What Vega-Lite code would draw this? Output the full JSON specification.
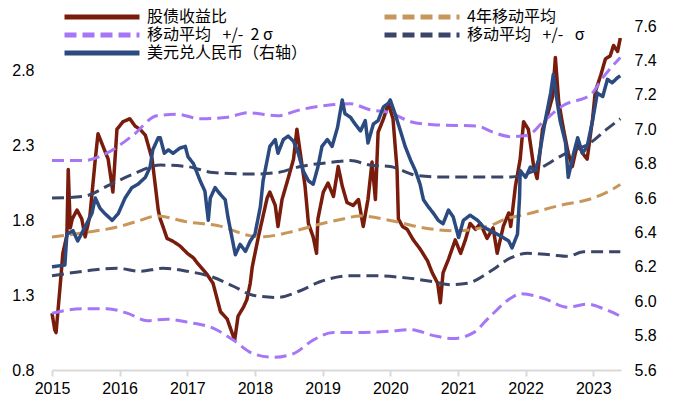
{
  "$schema": "https://vega.github.io/schema/vega-lite/v6.json",
  "width": 569,
  "height": 344,
  "autosize": {"type": "none"},
  "padding": {"left": 52, "top": 26, "right": 79, "bottom": 37},
  "config": {
    "view": {"stroke": null},
    "font": "Liberation Sans",
    "axis": {"labelFont": "Liberation Sans", "labelFontSize": 16, "labelColor": "#000000", "grid": false, "title": null},
    "legend": {
      "orient": "none", "legendX": 10, "legendY": -17, "columns": 2, "columnPadding": 74, "rowPadding": 2,
      "clipHeight": 16,
      "symbolType": "stroke", "symbolSize": 5625, "symbolStrokeWidth": 5,
      "labelFont": "Noto Sans CJK SC", "labelFontSize": 16, "labelColor": "#000000", "labelOffset": 5, "labelLimit": 400
    }
  },
  "datasets": {
    "red": [
      {"t": 2015.00, "v": 1.18}, {"t": 2015.04, "v": 1.07}, {"t": 2015.06, "v": 1.05}, {"t": 2015.12, "v": 1.36},
      {"t": 2015.16, "v": 1.58}, {"t": 2015.22, "v": 1.70}, {"t": 2015.24, "v": 2.14}, {"t": 2015.27, "v": 1.75},
      {"t": 2015.30, "v": 1.81}, {"t": 2015.37, "v": 1.87}, {"t": 2015.44, "v": 1.81}, {"t": 2015.49, "v": 1.69},
      {"t": 2015.56, "v": 1.83}, {"t": 2015.64, "v": 2.21}, {"t": 2015.68, "v": 2.38}, {"t": 2015.75, "v": 2.30},
      {"t": 2015.83, "v": 2.21}, {"t": 2015.90, "v": 1.99}, {"t": 2015.96, "v": 2.41}, {"t": 2016.05, "v": 2.46},
      {"t": 2016.15, "v": 2.48}, {"t": 2016.23, "v": 2.43}, {"t": 2016.30, "v": 2.41}, {"t": 2016.38, "v": 2.37},
      {"t": 2016.48, "v": 2.21}, {"t": 2016.57, "v": 1.87}, {"t": 2016.60, "v": 1.81}, {"t": 2016.64, "v": 1.76},
      {"t": 2016.70, "v": 1.68}, {"t": 2016.79, "v": 1.66}, {"t": 2016.89, "v": 1.63}, {"t": 2017.00, "v": 1.58},
      {"t": 2017.09, "v": 1.55}, {"t": 2017.14, "v": 1.52}, {"t": 2017.29, "v": 1.44}, {"t": 2017.38, "v": 1.38},
      {"t": 2017.49, "v": 1.19}, {"t": 2017.59, "v": 1.14}, {"t": 2017.66, "v": 1.05}, {"t": 2017.70, "v": 1.00},
      {"t": 2017.75, "v": 1.16}, {"t": 2017.83, "v": 1.22}, {"t": 2017.88, "v": 1.27}, {"t": 2017.93, "v": 1.38},
      {"t": 2017.96, "v": 1.49}, {"t": 2018.05, "v": 1.69}, {"t": 2018.12, "v": 1.83}, {"t": 2018.18, "v": 1.95},
      {"t": 2018.22, "v": 1.99}, {"t": 2018.30, "v": 1.90}, {"t": 2018.34, "v": 1.76}, {"t": 2018.40, "v": 1.94},
      {"t": 2018.49, "v": 2.08}, {"t": 2018.57, "v": 2.21}, {"t": 2018.62, "v": 2.41}, {"t": 2018.67, "v": 2.25},
      {"t": 2018.74, "v": 2.03}, {"t": 2018.79, "v": 1.78}, {"t": 2018.86, "v": 1.69}, {"t": 2018.91, "v": 1.58},
      {"t": 2018.93, "v": 1.81}, {"t": 2019.01, "v": 1.99}, {"t": 2019.08, "v": 2.05}, {"t": 2019.16, "v": 1.96},
      {"t": 2019.23, "v": 2.16}, {"t": 2019.29, "v": 2.03}, {"t": 2019.36, "v": 1.92}, {"t": 2019.45, "v": 1.90},
      {"t": 2019.53, "v": 1.94}, {"t": 2019.60, "v": 1.76}, {"t": 2019.67, "v": 1.94}, {"t": 2019.73, "v": 2.19},
      {"t": 2019.78, "v": 1.94}, {"t": 2019.82, "v": 2.39}, {"t": 2019.90, "v": 2.48}, {"t": 2019.97, "v": 2.58},
      {"t": 2020.00, "v": 2.54}, {"t": 2020.04, "v": 2.48}, {"t": 2020.10, "v": 2.14}, {"t": 2020.12, "v": 1.81},
      {"t": 2020.18, "v": 1.76}, {"t": 2020.25, "v": 1.74}, {"t": 2020.34, "v": 1.67}, {"t": 2020.44, "v": 1.61},
      {"t": 2020.55, "v": 1.53}, {"t": 2020.62, "v": 1.45}, {"t": 2020.70, "v": 1.38}, {"t": 2020.74, "v": 1.25},
      {"t": 2020.78, "v": 1.45}, {"t": 2020.86, "v": 1.54}, {"t": 2020.96, "v": 1.67}, {"t": 2021.04, "v": 1.58},
      {"t": 2021.11, "v": 1.67}, {"t": 2021.18, "v": 1.78}, {"t": 2021.26, "v": 1.74}, {"t": 2021.33, "v": 1.78},
      {"t": 2021.43, "v": 1.68}, {"t": 2021.52, "v": 1.75}, {"t": 2021.58, "v": 1.58}, {"t": 2021.67, "v": 1.76},
      {"t": 2021.75, "v": 1.85}, {"t": 2021.78, "v": 1.76}, {"t": 2021.85, "v": 2.03}, {"t": 2021.92, "v": 2.21},
      {"t": 2021.97, "v": 2.46}, {"t": 2022.04, "v": 2.41}, {"t": 2022.12, "v": 2.16}, {"t": 2022.17, "v": 2.08},
      {"t": 2022.25, "v": 2.41}, {"t": 2022.32, "v": 2.50}, {"t": 2022.40, "v": 2.63}, {"t": 2022.44, "v": 2.89},
      {"t": 2022.49, "v": 2.59}, {"t": 2022.56, "v": 2.41}, {"t": 2022.63, "v": 2.25}, {"t": 2022.69, "v": 2.16},
      {"t": 2022.77, "v": 2.32}, {"t": 2022.84, "v": 2.25}, {"t": 2022.91, "v": 2.21}, {"t": 2022.99, "v": 2.48},
      {"t": 2023.03, "v": 2.66}, {"t": 2023.11, "v": 2.77}, {"t": 2023.18, "v": 2.88}, {"t": 2023.25, "v": 2.90},
      {"t": 2023.30, "v": 2.97}, {"t": 2023.36, "v": 2.93}, {"t": 2023.40, "v": 3.02}
    ],
    "ma": [
      {"t": 2015.00, "v": 1.69}, {"t": 2015.50, "v": 1.72}, {"t": 2016.00, "v": 1.76}, {"t": 2016.30, "v": 1.80},
      {"t": 2016.55, "v": 1.83}, {"t": 2017.00, "v": 1.79}, {"t": 2017.50, "v": 1.76}, {"t": 2017.90, "v": 1.70},
      {"t": 2018.10, "v": 1.69}, {"t": 2018.50, "v": 1.72}, {"t": 2019.00, "v": 1.78}, {"t": 2019.30, "v": 1.81},
      {"t": 2019.55, "v": 1.83}, {"t": 2020.00, "v": 1.80}, {"t": 2020.50, "v": 1.75}, {"t": 2020.95, "v": 1.73},
      {"t": 2021.50, "v": 1.77}, {"t": 2021.70, "v": 1.81}, {"t": 2022.00, "v": 1.84}, {"t": 2022.50, "v": 1.90},
      {"t": 2023.00, "v": 1.95}, {"t": 2023.25, "v": 2.00}, {"t": 2023.40, "v": 2.04}
    ],
    "u2": [
      {"t": 2015.00, "v": 2.20}, {"t": 2015.46, "v": 2.20}, {"t": 2015.81, "v": 2.25}, {"t": 2016.20, "v": 2.37},
      {"t": 2016.55, "v": 2.50}, {"t": 2016.85, "v": 2.51}, {"t": 2017.19, "v": 2.48}, {"t": 2017.59, "v": 2.49},
      {"t": 2017.90, "v": 2.52}, {"t": 2018.33, "v": 2.50}, {"t": 2018.67, "v": 2.54}, {"t": 2019.07, "v": 2.57},
      {"t": 2019.41, "v": 2.58}, {"t": 2019.70, "v": 2.54}, {"t": 2020.00, "v": 2.52}, {"t": 2020.30, "v": 2.46},
      {"t": 2020.64, "v": 2.44}, {"t": 2021.29, "v": 2.43}, {"t": 2021.52, "v": 2.39}, {"t": 2021.78, "v": 2.36},
      {"t": 2022.03, "v": 2.37}, {"t": 2022.26, "v": 2.46}, {"t": 2022.56, "v": 2.57}, {"t": 2022.96, "v": 2.64},
      {"t": 2023.15, "v": 2.76}, {"t": 2023.40, "v": 2.89}
    ],
    "l2": [
      {"t": 2015.00, "v": 1.18}, {"t": 2015.22, "v": 1.20}, {"t": 2015.52, "v": 1.21}, {"t": 2015.81, "v": 1.21},
      {"t": 2016.11, "v": 1.18}, {"t": 2016.41, "v": 1.13}, {"t": 2016.70, "v": 1.14}, {"t": 2017.00, "v": 1.12},
      {"t": 2017.38, "v": 1.08}, {"t": 2017.68, "v": 1.00}, {"t": 2017.97, "v": 0.91}, {"t": 2018.27, "v": 0.885},
      {"t": 2018.57, "v": 0.91}, {"t": 2018.86, "v": 1.00}, {"t": 2019.16, "v": 1.05}, {"t": 2019.41, "v": 1.05},
      {"t": 2020.00, "v": 1.06}, {"t": 2020.30, "v": 1.07}, {"t": 2020.64, "v": 1.03}, {"t": 2020.93, "v": 1.01},
      {"t": 2021.23, "v": 1.05}, {"t": 2021.48, "v": 1.16}, {"t": 2021.78, "v": 1.28}, {"t": 2021.92, "v": 1.31},
      {"t": 2022.26, "v": 1.28}, {"t": 2022.62, "v": 1.22}, {"t": 2022.91, "v": 1.24}, {"t": 2023.15, "v": 1.21},
      {"t": 2023.40, "v": 1.16}
    ],
    "u1": [
      {"t": 2015.00, "v": 1.95}, {"t": 2015.46, "v": 1.96}, {"t": 2015.86, "v": 2.04}, {"t": 2016.20, "v": 2.11},
      {"t": 2016.60, "v": 2.17}, {"t": 2017.00, "v": 2.16}, {"t": 2017.38, "v": 2.12}, {"t": 2017.97, "v": 2.11},
      {"t": 2018.33, "v": 2.12}, {"t": 2018.67, "v": 2.16}, {"t": 2019.16, "v": 2.19}, {"t": 2019.41, "v": 2.20},
      {"t": 2019.70, "v": 2.17}, {"t": 2020.00, "v": 2.16}, {"t": 2020.40, "v": 2.10}, {"t": 2020.74, "v": 2.09},
      {"t": 2021.48, "v": 2.09}, {"t": 2021.78, "v": 2.09}, {"t": 2022.00, "v": 2.11}, {"t": 2022.17, "v": 2.14},
      {"t": 2022.56, "v": 2.24}, {"t": 2022.96, "v": 2.32}, {"t": 2023.20, "v": 2.41}, {"t": 2023.40, "v": 2.48}
    ],
    "l1": [
      {"t": 2015.00, "v": 1.43}, {"t": 2015.46, "v": 1.46}, {"t": 2015.96, "v": 1.48}, {"t": 2016.30, "v": 1.46},
      {"t": 2016.64, "v": 1.48}, {"t": 2017.00, "v": 1.46}, {"t": 2017.38, "v": 1.42}, {"t": 2017.68, "v": 1.36},
      {"t": 2017.97, "v": 1.30}, {"t": 2018.33, "v": 1.285}, {"t": 2018.67, "v": 1.33}, {"t": 2018.96, "v": 1.39},
      {"t": 2019.41, "v": 1.43}, {"t": 2019.80, "v": 1.43}, {"t": 2020.15, "v": 1.42}, {"t": 2020.64, "v": 1.39},
      {"t": 2020.89, "v": 1.37}, {"t": 2021.14, "v": 1.38}, {"t": 2021.48, "v": 1.46}, {"t": 2021.78, "v": 1.55},
      {"t": 2022.03, "v": 1.58}, {"t": 2022.37, "v": 1.57}, {"t": 2022.62, "v": 1.56}, {"t": 2022.86, "v": 1.59},
      {"t": 2023.40, "v": 1.59}
    ],
    "fx": [
      {"t": 2015.00, "v": 6.20}, {"t": 2015.19, "v": 6.21}, {"t": 2015.22, "v": 6.39}, {"t": 2015.31, "v": 6.41},
      {"t": 2015.38, "v": 6.35}, {"t": 2015.46, "v": 6.41}, {"t": 2015.59, "v": 6.51}, {"t": 2015.64, "v": 6.60},
      {"t": 2015.71, "v": 6.54}, {"t": 2015.78, "v": 6.51}, {"t": 2015.89, "v": 6.47}, {"t": 2015.98, "v": 6.51},
      {"t": 2016.08, "v": 6.60}, {"t": 2016.18, "v": 6.66}, {"t": 2016.27, "v": 6.68}, {"t": 2016.38, "v": 6.72},
      {"t": 2016.45, "v": 6.78}, {"t": 2016.49, "v": 6.88}, {"t": 2016.57, "v": 6.95}, {"t": 2016.60, "v": 6.95},
      {"t": 2016.66, "v": 6.86}, {"t": 2016.72, "v": 6.88}, {"t": 2016.79, "v": 6.86}, {"t": 2016.89, "v": 6.89},
      {"t": 2016.97, "v": 6.90}, {"t": 2017.01, "v": 6.84}, {"t": 2017.09, "v": 6.80}, {"t": 2017.19, "v": 6.70},
      {"t": 2017.26, "v": 6.64}, {"t": 2017.31, "v": 6.47}, {"t": 2017.34, "v": 6.60}, {"t": 2017.41, "v": 6.66},
      {"t": 2017.49, "v": 6.62}, {"t": 2017.56, "v": 6.59}, {"t": 2017.60, "v": 6.49}, {"t": 2017.66, "v": 6.37},
      {"t": 2017.71, "v": 6.27}, {"t": 2017.78, "v": 6.33}, {"t": 2017.86, "v": 6.29}, {"t": 2017.93, "v": 6.35},
      {"t": 2018.00, "v": 6.39}, {"t": 2018.08, "v": 6.55}, {"t": 2018.12, "v": 6.70}, {"t": 2018.18, "v": 6.82},
      {"t": 2018.22, "v": 6.90}, {"t": 2018.30, "v": 6.94}, {"t": 2018.34, "v": 6.86}, {"t": 2018.42, "v": 6.94},
      {"t": 2018.49, "v": 6.96}, {"t": 2018.57, "v": 6.93}, {"t": 2018.64, "v": 6.86}, {"t": 2018.71, "v": 6.76},
      {"t": 2018.79, "v": 6.70}, {"t": 2018.86, "v": 6.68}, {"t": 2018.93, "v": 6.78}, {"t": 2018.99, "v": 6.90},
      {"t": 2019.07, "v": 6.94}, {"t": 2019.14, "v": 6.90}, {"t": 2019.22, "v": 7.01}, {"t": 2019.29, "v": 7.17},
      {"t": 2019.33, "v": 7.09}, {"t": 2019.41, "v": 7.07}, {"t": 2019.48, "v": 7.03}, {"t": 2019.56, "v": 6.99},
      {"t": 2019.63, "v": 7.05}, {"t": 2019.67, "v": 6.92}, {"t": 2019.75, "v": 7.03}, {"t": 2019.82, "v": 7.05},
      {"t": 2019.90, "v": 7.13}, {"t": 2019.97, "v": 7.15}, {"t": 2020.00, "v": 7.17}, {"t": 2020.07, "v": 7.09},
      {"t": 2020.15, "v": 6.99}, {"t": 2020.22, "v": 6.90}, {"t": 2020.30, "v": 6.82}, {"t": 2020.37, "v": 6.76},
      {"t": 2020.44, "v": 6.68}, {"t": 2020.49, "v": 6.59}, {"t": 2020.56, "v": 6.55}, {"t": 2020.64, "v": 6.51},
      {"t": 2020.71, "v": 6.47}, {"t": 2020.78, "v": 6.45}, {"t": 2020.86, "v": 6.53}, {"t": 2020.93, "v": 6.49},
      {"t": 2021.01, "v": 6.37}, {"t": 2021.08, "v": 6.47}, {"t": 2021.18, "v": 6.50}, {"t": 2021.29, "v": 6.47},
      {"t": 2021.38, "v": 6.43}, {"t": 2021.48, "v": 6.41}, {"t": 2021.58, "v": 6.39}, {"t": 2021.67, "v": 6.37},
      {"t": 2021.75, "v": 6.35}, {"t": 2021.80, "v": 6.31}, {"t": 2021.88, "v": 6.39}, {"t": 2021.91, "v": 6.60},
      {"t": 2021.92, "v": 6.76}, {"t": 2022.00, "v": 6.72}, {"t": 2022.07, "v": 6.78}, {"t": 2022.14, "v": 6.76},
      {"t": 2022.19, "v": 6.82}, {"t": 2022.29, "v": 7.05}, {"t": 2022.37, "v": 7.21}, {"t": 2022.41, "v": 7.32},
      {"t": 2022.47, "v": 7.15}, {"t": 2022.51, "v": 7.05}, {"t": 2022.59, "v": 6.92}, {"t": 2022.63, "v": 6.72},
      {"t": 2022.71, "v": 6.86}, {"t": 2022.77, "v": 6.95}, {"t": 2022.84, "v": 6.86}, {"t": 2022.91, "v": 6.90},
      {"t": 2022.99, "v": 7.05}, {"t": 2023.06, "v": 7.21}, {"t": 2023.14, "v": 7.19}, {"t": 2023.21, "v": 7.29},
      {"t": 2023.28, "v": 7.27}, {"t": 2023.36, "v": 7.30}, {"t": 2023.40, "v": 7.31}
    ]
  },
  "encoding": {
    "x": {
      "field": "t", "type": "quantitative",
      "scale": {"domain": [2015, 2023.41], "nice": false, "zero": false},
      "axis": {
        "values": [2015, 2016, 2017, 2018, 2019, 2020, 2021, 2022, 2023], "format": "d",
        "domainColor": "#D9D9D9", "domainWidth": 2, "tickColor": "#D9D9D9", "tickWidth": 2, "tickSize": 6,
        "labelPadding": 4, "labelFlush": false
      }
    }
  },
  "layer": [
    {
      "encoding": {
        "y": {
          "field": "v", "type": "quantitative",
          "scale": {"domain": [0.8, 3.1], "nice": false, "zero": false},
          "axis": {"orient": "left", "values": [0.8, 1.3, 1.8, 2.3, 2.8], "format": ".1f", "domain": false, "ticks": false, "labelPadding": 18}
        }
      },
      "layer": [
        {
          "data": {"name": "red"},
          "mark": {"type": "line", "strokeWidth": 3.5, "strokeJoin": "round"},
          "encoding": {
            "color": {
              "datum": "股债收益比", "type": "nominal",
              "scale": {"domain": ["股债收益比", "移动平均\u2002\u00a0+/-\u00a0\u00a02\u00a0σ", "美元兑人民币（右轴）", "4年移动平均", "移动平均\u2002\u00a0+/-\u2002\u00a0σ"],
                        "range": ["#7A1C0C", "#A577F6", "#2A4A80", "#C9965A", "#3A4567"]},
              "legend": {"title": null}
            },
            "strokeDash": {
              "datum": "股债收益比", "type": "nominal",
              "scale": {"domain": ["股债收益比", "移动平均\u2002\u00a0+/-\u00a0\u00a02\u00a0σ", "美元兑人民币（右轴）", "4年移动平均", "移动平均\u2002\u00a0+/-\u2002\u00a0σ"],
                        "range": [[1, 0], [12, 6], [1, 0], [12, 6], [12, 6]]},
              "legend": {"title": null}
            }
          }
        },
        {
          "data": {"name": "ma"},
          "mark": {"type": "line", "strokeWidth": 3, "interpolate": "monotone"},
          "encoding": {"color": {"datum": "4年移动平均", "type": "nominal"}, "strokeDash": {"datum": "4年移动平均", "type": "nominal"}}
        },
        {
          "data": {"name": "u2"},
          "mark": {"type": "line", "strokeWidth": 3, "interpolate": "monotone"},
          "encoding": {"color": {"datum": "移动平均\u2002\u00a0+/-\u00a0\u00a02\u00a0σ", "type": "nominal"}, "strokeDash": {"datum": "移动平均\u2002\u00a0+/-\u00a0\u00a02\u00a0σ", "type": "nominal"}}
        },
        {
          "data": {"name": "l2"},
          "mark": {"type": "line", "strokeWidth": 3, "interpolate": "monotone"},
          "encoding": {"color": {"datum": "移动平均\u2002\u00a0+/-\u00a0\u00a02\u00a0σ", "type": "nominal"}, "strokeDash": {"datum": "移动平均\u2002\u00a0+/-\u00a0\u00a02\u00a0σ", "type": "nominal"}}
        },
        {
          "data": {"name": "u1"},
          "mark": {"type": "line", "strokeWidth": 3, "interpolate": "monotone"},
          "encoding": {"color": {"datum": "移动平均\u2002\u00a0+/-\u2002\u00a0σ", "type": "nominal"}, "strokeDash": {"datum": "移动平均\u2002\u00a0+/-\u2002\u00a0σ", "type": "nominal"}}
        },
        {
          "data": {"name": "l1"},
          "mark": {"type": "line", "strokeWidth": 3, "interpolate": "monotone"},
          "encoding": {"color": {"datum": "移动平均\u2002\u00a0+/-\u2002\u00a0σ", "type": "nominal"}, "strokeDash": {"datum": "移动平均\u2002\u00a0+/-\u2002\u00a0σ", "type": "nominal"}}
        }
      ]
    },
    {
      "data": {"name": "fx"},
      "mark": {"type": "line", "strokeWidth": 3.5, "strokeJoin": "round"},
      "encoding": {
        "y": {
          "field": "v", "type": "quantitative",
          "scale": {"domain": [5.6, 7.6], "nice": false, "zero": false},
          "axis": {"orient": "right", "values": [5.6, 5.8, 6.0, 6.2, 6.4, 6.6, 6.8, 7.0, 7.2, 7.4, 7.6], "format": ".1f", "domain": false, "ticks": false, "labelPadding": 13}
        },
        "color": {"datum": "美元兑人民币（右轴）", "type": "nominal"},
        "strokeDash": {"datum": "美元兑人民币（右轴）", "type": "nominal"}
      }
    }
  ],
  "resolve": {"scale": {"y": "independent"}}
}
